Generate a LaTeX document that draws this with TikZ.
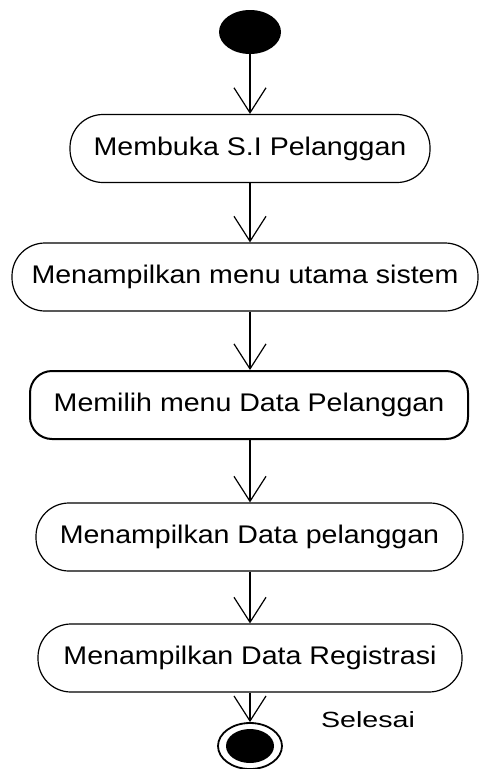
\documentclass[tikz,border=0pt]{standalone}
\usepackage{fontspec}
\setmainfont{Liberation Sans}
\usetikzlibrary{arrows.meta,shapes.geometric}

\tikzset{
  act/.style={draw, line width=1.2pt, rectangle, rounded corners=33pt,
    minimum height=68pt, inner sep=0pt,
    font=\fontsize{25.5}{28}\selectfont},
  actbold/.style={act, line width=2pt, rounded corners=22pt},
  flow/.style={line width=1.2pt,
    -{Straight Barb[length=25pt,width=32pt,line width=1.2pt]}},
  startnode/.style={ellipse, fill=black, minimum width=62pt, minimum height=44pt, inner sep=0pt},
  endring/.style={ellipse, draw, line width=1.8pt, fill=white, minimum width=64pt, minimum height=46pt, inner sep=0pt},
  endcore/.style={ellipse, fill=black, minimum width=48pt, minimum height=34pt, inner sep=0pt},
}
\newcommand{\wide}[1]{\scalebox{1.12}[1]{#1}}

\begin{document}
\begin{tikzpicture}[x=1pt,y=-1pt]
  \useasboundingbox (0,0) rectangle (480,769);

  \node[startnode] (start) at (250,32) {};

  \node[act, minimum width=360pt] (b1) at (250,148.5) {\wide{Membuka S.I Pelanggan}};
  \node[act, minimum width=466pt] (b2) at (245,277) {\wide{Menampilkan menu utama sistem}};
  \node[actbold, minimum width=438pt] (b3) at (249,405) {\wide{Memilih menu Data Pelanggan}};
  \node[act, minimum width=427pt] (b4) at (249.5,537) {\wide{Menampilkan Data pelanggan}};
  \node[act, minimum width=424pt] (b5) at (250,658) {\wide{Menampilkan Data Registrasi}};

  \node[endring] (stop) at (250,746) {};
  \node[endcore] (stopcore) at (stop.center) {};
  \node[font=\fontsize{22}{24}\selectfont] (lbl) at (368,720) {\scalebox{1.3}[1]{Selesai}};

  \draw[flow] (start.south) -- (start.south |- b1.north);
  \draw[flow] (b1.south) -- (b1.south |- b2.north);
  \draw[flow] (b1.south |- b2.south) -- (b1.south |- b3.north);
  \draw[flow] (b1.south |- b3.south) -- (b1.south |- b4.north);
  \draw[flow] (b1.south |- b4.south) -- (b1.south |- b5.north);
  \draw[flow] (b5.south) -- (stop.north);
\end{tikzpicture}
\end{document}
